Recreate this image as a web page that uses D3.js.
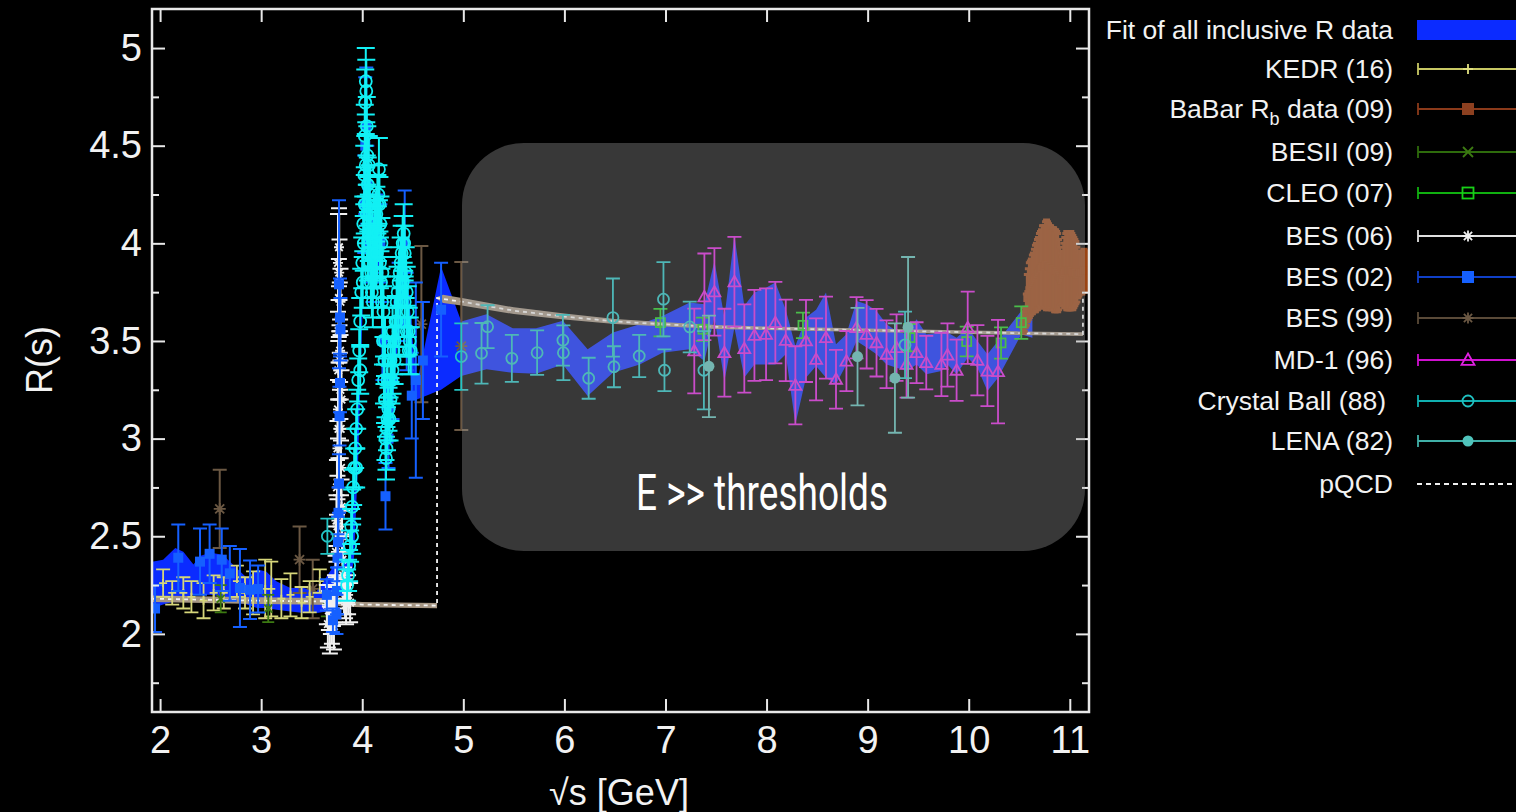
<!DOCTYPE html>
<html><head><meta charset="utf-8">
<script src="https://cdn.jsdelivr.net/npm/d3@7"></script>
<style>body{margin:0;background:#000;}svg{display:block;}</style>
</head><body><svg id="c" width="1516" height="812"></svg>
<script>
// ---------------- DATA ----------------
const xTicks = [2,3,4,5,6,7,8,9,10,11];
const yTicks = [2,2.5,3,3.5,4,4.5,5];
const yMinorTicks = [1.75,2.25,2.75,3.25,3.75,4.25,4.75];

const legendLabels = ["Fit of all inclusive R data","KEDR (16)","BaBar R_b data (09)","BESII (09)","CLEO (07)","BES (06)","BES (02)","BES (99)","MD-1 (96)","Crystal Ball (88)","LENA (82)","pQCD"];

// Fit band
const fitX  = [1.92,2.03,2.15,2.23,2.33,2.40,2.50,2.62,2.72,2.86,2.96,3.05,3.15,3.29,3.42,3.55,3.65,3.72,3.75,3.77,3.79,3.82,3.87,3.92,3.96,4.00,4.03,4.06,4.09,4.13,4.17,4.20,4.23,4.27,4.32,4.37,4.41,4.45,4.50,4.54,4.78,4.98,5.23,5.49,5.72,5.985,6.23,6.48,6.745,6.97,7.24,7.385,7.484,7.583,7.682,7.78,7.88,7.995,8.087,8.19,8.285,8.39,8.49,8.588,8.687,8.79,8.89,8.99,9.088,9.187,9.286,9.385,9.484,9.58,9.73,9.79,9.88,9.99,10.086,10.185,10.29,10.52,10.63];
const fitLo = [2.13,2.15,2.167,2.184,2.20,2.20,2.20,2.19,2.167,2.15,2.132,2.132,2.124,2.115,2.107,2.107,2.115,2.15,2.30,3.0,2.6,2.2,2.2,2.4,2.9,3.6,4.3,4.1,3.8,3.8,3.9,3.6,2.9,3.0,3.3,3.6,3.8,3.5,3.2,3.2,3.25,3.32,3.355,3.337,3.332,3.38,3.218,3.337,3.38,3.44,3.457,3.397,3.62,3.295,3.568,3.313,3.38,3.38,3.38,3.432,3.073,3.312,3.372,3.312,3.278,3.38,3.50,3.466,3.432,3.38,3.363,3.346,3.38,3.329,3.346,3.38,3.329,3.414,3.363,3.244,3.312,3.534,3.517];
const fitHi = [2.37,2.38,2.44,2.42,2.355,2.40,2.415,2.405,2.355,2.286,2.33,2.32,2.27,2.235,2.235,2.218,2.295,2.35,2.60,3.5,2.9,2.4,2.35,2.7,3.3,4.0,4.75,4.5,4.2,4.1,4.25,3.95,3.3,3.3,3.6,3.9,4.1,3.8,3.5,3.28,3.88,3.60,3.637,3.565,3.565,3.603,3.457,3.543,3.586,3.628,3.697,3.688,3.91,3.62,4.04,3.68,3.748,3.773,3.80,3.66,3.474,3.62,3.66,3.748,3.483,3.534,3.705,3.688,3.654,3.586,3.551,3.534,3.611,3.534,3.543,3.543,3.517,3.568,3.50,3.432,3.50,3.654,3.628];

// pQCD
const pqcdX   = [1.92,3.0,3.73,3.80,4.0,4.74,4.74,4.8,5.0,5.5,6.0,6.5,7.0,7.5,8.0,8.5,9.0,9.5,10.0,10.5,11.13,11.13];
const pqcdR   = [2.18,2.17,2.165,2.155,2.15,2.145,3.72,3.715,3.70,3.655,3.625,3.60,3.585,3.572,3.565,3.56,3.555,3.55,3.545,3.54,3.535,3.84];
const pqcdErr = [0.012,0.012,0.012,0.01,0.008,0.008,0.0,0.016,0.014,0.012,0.01,0.008,0.006,0.005,0.004,0.004,0.004,0.004,0.004,0.004,0.004,0.0];

// KEDR (16)
const kedrX = [2.03,2.12,2.23,2.31,2.43,2.53,2.63,2.76,2.84,2.92,3.04,3.10,3.20,3.29,3.40,3.48,3.58];
const kedrR = [2.26,2.21,2.21,2.19,2.17,2.21,2.21,2.27,2.21,2.21,2.23,2.23,2.18,2.20,2.16,2.19,2.27];
const kedrE = [0.07,0.06,0.08,0.08,0.09,0.09,0.08,0.08,0.08,0.11,0.15,0.14,0.10,0.11,0.08,0.08,0.06];

// BaBar Rb (09)
const babarX = [10.54,10.55,10.56,10.57,10.58,10.59,10.60,10.61,10.62,10.63,10.64,10.65,10.66,10.67,10.68,10.69,10.70,10.71,10.72,10.73,10.74,10.75,10.76,10.77,10.78,10.79,10.80,10.81,10.82,10.83,10.84,10.85,10.86,10.87,10.88,10.89,10.90,10.91,10.92,10.93,10.94,10.95,10.96,10.97,10.98,10.99,11.00,11.01,11.02,11.03,11.04,11.05,11.06,11.07,11.08,11.09,11.10,11.12,11.14,11.16,11.18,11.20];
const babarR = [3.58,3.60,3.62,3.66,3.72,3.74,3.76,3.77,3.78,3.79,3.80,3.81,3.82,3.83,3.84,3.85,3.86,3.87,3.87,3.88,3.88,3.88,3.89,3.89,3.89,3.88,3.88,3.88,3.87,3.87,3.87,3.86,3.86,3.86,3.85,3.84,3.83,3.82,3.81,3.82,3.84,3.85,3.86,3.86,3.86,3.86,3.86,3.86,3.86,3.85,3.85,3.85,3.85,3.84,3.84,3.84,3.85,3.85,3.86,3.86,3.86,3.86];
const babarE = [0.04,0.05,0.05,0.08,0.12,0.13,0.14,0.14,0.14,0.15,0.15,0.16,0.17,0.17,0.18,0.18,0.19,0.19,0.20,0.21,0.21,0.21,0.22,0.23,0.22,0.22,0.21,0.21,0.21,0.21,0.21,0.21,0.21,0.20,0.20,0.18,0.15,0.13,0.12,0.14,0.16,0.18,0.19,0.20,0.20,0.20,0.20,0.20,0.19,0.19,0.18,0.17,0.16,0.14,0.12,0.11,0.11,0.11,0.11,0.10,0.10,0.10];

// BESII (09)
const besiiX = [2.60,3.07,3.65];
const besiiR = [2.18,2.13,2.17];
const besiiE = [0.07,0.07,0.08];

// CLEO (07)
const cleoX = [6.95,7.37,8.36,9.42,9.98,10.32,10.52];
const cleoR = [3.594,3.56,3.58,3.517,3.497,3.49,3.594];
const cleoE = [0.07,0.06,0.065,0.07,0.076,0.08,0.083];

// BES (06)
const bes06X = [3.65,3.66,3.67,3.68,3.69,3.70,3.71,3.72,3.73,3.735,3.74,3.745,3.75,3.755,3.76,3.763,3.766,3.769,3.772,3.775,3.778,3.781,3.784,3.787,3.79,3.795,3.80,3.805,3.81,3.82,3.83,3.84,3.86,3.88,3.745,3.755,3.765,3.775,3.785,3.795,3.76,3.77,3.78];
const bes06R = [2.15,2.05,2.12,2.02,2.10,2.06,2.14,2.04,2.18,2.28,2.42,2.58,2.75,2.95,3.15,3.35,3.55,3.72,3.85,3.80,3.62,3.45,3.25,3.05,2.85,2.65,2.50,2.38,2.30,2.22,2.18,2.15,2.20,2.16,2.25,2.55,3.05,3.55,3.70,3.20,3.90,3.98,3.40];
const bes06E = [0.10,0.12,0.10,0.12,0.10,0.11,0.10,0.12,0.12,0.12,0.13,0.13,0.14,0.14,0.15,0.15,0.16,0.20,0.30,0.22,0.18,0.16,0.15,0.15,0.14,0.14,0.13,0.12,0.12,0.12,0.10,0.10,0.10,0.10,0.12,0.14,0.15,0.16,0.17,0.15,0.25,0.20,0.15];

// BES (02)
const bes02X = [1.95,2.18,2.395,2.49,2.61,2.69,2.79,2.89,2.97,3.65,3.71,3.745,3.75,3.755,3.76,3.765,3.77,3.775,3.78,3.785,3.77,3.78,4.02,4.03,4.04,4.05,4.07,4.10,4.14,4.18,4.20,4.23,4.26,4.30,4.36,4.42,4.44,4.49,4.53,4.60,4.78];
const bes02R = [2.13,2.39,2.37,2.41,2.38,2.31,2.235,2.226,2.23,2.20,2.07,2.10,2.22,2.39,2.47,2.62,2.77,3.115,3.285,3.56,3.79,3.62,4.20,4.50,4.60,4.30,4.00,3.90,4.05,4.00,3.50,2.705,3.00,3.30,3.70,4.00,3.60,3.22,3.30,3.40,3.66];
const bes02E = [0.12,0.17,0.17,0.15,0.16,0.14,0.20,0.15,0.12,0.08,0.06,0.10,0.12,0.12,0.13,0.13,0.15,0.15,0.15,0.16,0.43,0.20,0.25,0.35,0.30,0.20,0.20,0.20,0.20,0.20,0.20,0.17,0.15,0.20,0.20,0.27,0.25,0.22,0.50,0.30,0.24];

// BES (99)
const bes99X = [2.59,3.38,3.51,4.585,4.98];
const bes99R = [2.64,2.38,2.23,3.586,3.474];
const bes99E = [0.20,0.17,0.15,0.40,0.43];

// MD-1 (96)
const md1X = [7.285,7.385,7.484,7.583,7.682,7.78,7.88,7.995,8.087,8.19,8.285,8.39,8.49,8.588,8.687,8.79,8.89,8.99,9.088,9.187,9.286,9.385,9.484,9.58,9.73,9.79,9.88,9.99,10.086,10.185,10.29];
const md1R = [3.449,3.726,3.751,3.44,3.803,3.461,3.529,3.534,3.594,3.503,3.273,3.50,3.406,3.517,3.304,3.397,3.568,3.534,3.491,3.432,3.466,3.38,3.44,3.389,3.38,3.428,3.35,3.568,3.401,3.346,3.343];
const md1E = [0.217,0.222,0.224,0.225,0.23,0.226,0.233,0.235,0.209,0.209,0.20,0.21,0.21,0.21,0.15,0.154,0.157,0.175,0.173,0.173,0.17,0.17,0.156,0.137,0.162,0.162,0.157,0.185,0.18,0.18,0.265];

// Crystal Ball (88)
const cbX = [3.655,4.98,5.18,5.24,5.48,5.73,5.985,5.99,6.24,6.48,6.49,6.74,6.98,6.99,7.24,7.38,9.37];
const cbR = [2.50,3.42,3.437,3.573,3.411,3.44,3.504,3.44,3.309,3.62,3.368,3.423,3.714,3.35,3.572,3.35,3.48];
const cbE = [0.09,0.17,0.155,0.11,0.12,0.114,0.13,0.14,0.105,0.20,0.105,0.108,0.19,0.107,0.13,0.20,0.17];

// LENA (82)
const lenaX = [7.43,8.90,9.27,9.40];
const lenaR = [3.37,3.42,3.31,3.57];
const lenaE = [0.26,0.25,0.28,0.36];

// charm-region scan (bright cyan, not in visible legend)
const charmX = [3.85,3.87,3.88,3.89,3.90,3.91,3.92,3.93,3.94,3.95,3.96,3.97,3.98,3.99,4.00,4.01,4.02,4.025,4.03,4.035,4.04,4.045,4.05,4.055,4.06,4.065,4.07,4.075,4.08,4.085,4.09,4.10,4.11,4.12,4.13,4.14,4.15,4.16,4.165,4.17,4.18,4.19,4.20,4.21,4.22,4.225,4.23,4.235,4.24,4.245,4.25,4.26,4.27,4.28,4.29,4.30,4.31,4.32,4.33,4.34,4.35,4.36,4.37,4.38,4.39,4.40,4.41,4.415,4.42,4.43,4.44,4.45,4.46,4.47,4.48,
  4.005,4.015,4.025,4.035,4.045,4.055,4.065,4.075,4.085,4.095,4.105,4.115,4.125,4.135,4.145,4.155,4.175,4.185,4.195,4.205,4.215,4.30,4.32,4.34,4.36,4.38,4.40,4.42,4.44,4.46,3.86,3.90,3.94,3.98,4.225,4.25,4.28];
const charmR = [2.25,2.35,2.45,2.55,2.65,2.75,2.85,2.95,3.05,3.15,3.30,3.45,3.60,3.75,3.90,4.10,4.35,4.55,4.72,4.83,4.78,4.60,4.45,4.30,4.20,4.40,4.10,4.00,3.90,3.80,3.85,3.95,4.00,4.05,4.10,4.15,4.20,4.25,4.38,4.20,4.10,4.00,3.85,3.65,3.40,3.20,3.00,2.90,2.95,3.05,3.10,3.15,3.10,3.20,3.30,3.35,3.45,3.50,3.60,3.70,3.75,3.80,3.85,3.90,3.95,4.00,4.05,4.00,3.95,3.85,3.75,3.65,3.55,3.50,3.45,
  3.80,4.00,4.20,4.40,4.15,3.95,4.05,4.25,4.05,3.75,3.70,3.85,3.90,3.95,3.95,4.05,3.90,3.80,3.70,3.50,3.30,3.55,3.40,3.60,3.55,3.70,3.80,3.70,3.55,3.45,2.30,2.50,2.85,3.35,3.50,3.30,3.40];
const charmE = [0.08,0.08,0.08,0.09,0.09,0.09,0.10,0.10,0.10,0.10,0.11,0.11,0.12,0.12,0.13,0.14,0.15,0.16,0.17,0.17,0.16,0.15,0.15,0.14,0.14,0.15,0.14,0.13,0.13,0.13,0.13,0.13,0.13,0.14,0.14,0.14,0.15,0.15,0.16,0.14,0.14,0.13,0.13,0.13,0.12,0.12,0.11,0.11,0.11,0.11,0.11,0.11,0.11,0.11,0.12,0.12,0.12,0.12,0.13,0.13,0.13,0.13,0.13,0.13,0.14,0.14,0.15,0.14,0.14,0.13,0.13,0.13,0.12,0.12,0.12,
  0.13,0.14,0.15,0.16,0.15,0.14,0.14,0.15,0.14,0.13,0.13,0.13,0.13,0.14,0.14,0.14,0.13,0.13,0.13,0.12,0.12,0.12,0.12,0.13,0.13,0.13,0.13,0.13,0.13,0.12,0.08,0.09,0.10,0.12,0.12,0.11,0.11];

// ---------------- CHART ----------------
const svg = d3.select('#c');
svg.append('rect').attr('width',1516).attr('height',812).attr('fill','#000');
const xs = d3.scaleLinear().domain([1.92, 11.19]).range([152, 1089]);
const ys = d3.scaleLinear().domain([1.6, 5.2]).range([712, 9]);

svg.append('clipPath').attr('id','plotclip').append('rect')
  .attr('x',152).attr('y',9).attr('width',937).attr('height',703);
const plot = svg.append('g').attr('clip-path','url(#plotclip)');

// fit band
const fitData = fitX.map((x,i)=>({x, lo:fitLo[i], hi:fitHi[i]}));
plot.append('path').datum(fitData)
  .attr('d', d3.area().x(d=>xs(d.x)).y0(d=>ys(d.lo)).y1(d=>ys(d.hi)))
  .attr('fill','#0b2bff');

// pQCD band + line
const pq = pqcdX.map((x,i)=>({x, r:pqcdR[i], e:pqcdErr[i]}));
plot.append('path').datum(pq)
  .attr('d', d3.area().x(d=>xs(d.x)).y0(d=>ys(d.r-d.e)+1).y1(d=>ys(d.r+d.e)-1))
  .attr('fill','#a59684');
plot.append('path').datum(pq)
  .attr('d', d3.line().x(d=>xs(d.x)).y(d=>ys(d.r)))
  .attr('fill','none').attr('stroke','#f4f4f4').attr('stroke-width',1.8).attr('stroke-dasharray','4,4');

// marker painter
function marker(g, type, color, size){
  const s = size;
  switch(type){
    case 'plus': g.append('path').attr('d',`M${-s},0H${s}M0,${-s}V${s}`).attr('stroke',color).attr('stroke-width',1.8).attr('fill','none'); break;
    case 'cross': g.append('path').attr('d',`M${-s},${-s}L${s},${s}M${-s},${s}L${s},${-s}`).attr('stroke',color).attr('stroke-width',1.8).attr('fill','none'); break;
    case 'star': g.append('path').attr('d',`M${-s},0H${s}M0,${-s}V${s}M${-s*0.75},${-s*0.75}L${s*0.75},${s*0.75}M${-s*0.75},${s*0.75}L${s*0.75},${-s*0.75}`).attr('stroke',color).attr('stroke-width',1.8).attr('fill','none'); break;
    case 'sqFill': g.append('rect').attr('x',-s).attr('y',-s).attr('width',2*s).attr('height',2*s).attr('fill',color); break;
    case 'sqOpen': g.append('rect').attr('x',-s).attr('y',-s).attr('width',2*s).attr('height',2*s).attr('fill','none').attr('stroke',color).attr('stroke-width',1.8); break;
    case 'triOpen': g.append('path').attr('d',`M0,${-s}L${s},${s*0.75}L${-s},${s*0.75}Z`).attr('fill','none').attr('stroke',color).attr('stroke-width',1.8); break;
    case 'circOpen': g.append('circle').attr('r',s).attr('fill','none').attr('stroke',color).attr('stroke-width',1.8); break;
    case 'circFill': g.append('circle').attr('r',s).attr('fill',color); break;
  }
}

function series(X, R, E, color, type, size, capW, lw){
  const data = X.map((x,i)=>({x, r:R[i], e:E[i]}));
  const g = plot.append('g');
  const pts = g.selectAll('g').data(data).join('g')
    .attr('transform', d=>`translate(${xs(d.x)},0)`);
  pts.append('path')
    .attr('d', d=>`M0,${ys(d.r-d.e)}V${ys(d.r+d.e)}M${-capW/2},${ys(d.r-d.e)}H${capW/2}M${-capW/2},${ys(d.r+d.e)}H${capW/2}`)
    .attr('stroke', color).attr('stroke-width', lw).attr('fill','none');
  pts.each(function(d){
    const m = d3.select(this).append('g').attr('transform',`translate(0,${ys(d.r)})`);
    marker(m, type, color, size);
  });
}

series(babarX, babarR, babarE, '#9a4414', 'sqFill', 4, 7, 3);
series(bes99X, bes99R, bes99E, '#6b5843', 'star', 6, 14, 2);
series(kedrX, kedrR, kedrE, '#d6d67a', 'plus', 4, 14, 1.8);
series(besiiX, besiiR, besiiE, '#3c7a12', 'cross', 4, 12, 1.8);
series(bes06X, bes06R, bes06E, '#f0f0f0', 'star', 5, 16, 2);
series(bes02X, bes02R, bes02E, '#1560ff', 'sqFill', 5, 14, 2);
series(charmX, charmR, charmE, '#12f0f4', 'circOpen', 6, 18, 2);
series(cleoX, cleoR, cleoE, '#1ccc1c', 'sqOpen', 4.5, 14, 1.8);
series(md1X, md1R, md1E, '#e020e0', 'triOpen', 6, 14, 1.8);
series(cbX, cbR, cbE, '#22c4c4', 'circOpen', 5.5, 14, 1.8);
series(lenaX, lenaR, lenaE, '#5cc0b8', 'circFill', 5.5, 14, 1.8);

// axes
const axCol = '#e8e8e8';
function styleAxis(g){
  g.select('.domain').remove();
  g.selectAll('line').attr('stroke',axCol).attr('stroke-width',2);
  g.selectAll('text').attr('fill','#f2f2f2').attr('font-family','Liberation Sans, Arial, sans-serif').attr('font-size',38);
}
svg.append('g').attr('transform','translate(0,712)')
  .call(d3.axisBottom(xs).tickValues(xTicks).tickSize(-13).tickPadding(14).tickFormat(d3.format('d'))).call(styleAxis);
svg.append('g').attr('transform','translate(0,9)')
  .call(d3.axisTop(xs).tickValues(xTicks).tickSize(-13).tickFormat('')).call(styleAxis);
svg.append('g').attr('transform','translate(152,0)')
  .call(d3.axisLeft(ys).tickValues(yTicks).tickSize(-13).tickPadding(10).tickFormat(d=>d)).call(styleAxis);
svg.append('g').attr('transform','translate(152,0)')
  .call(d3.axisLeft(ys).tickValues(yMinorTicks).tickSize(-7).tickFormat('')).call(styleAxis);
svg.append('g').attr('transform','translate(1089,0)')
  .call(d3.axisRight(ys).tickValues(yTicks).tickSize(-13).tickFormat('')).call(styleAxis);
svg.append('g').attr('transform','translate(1089,0)')
  .call(d3.axisRight(ys).tickValues(yMinorTicks).tickSize(-7).tickFormat('')).call(styleAxis);
svg.append('rect').attr('x',152).attr('y',9).attr('width',937).attr('height',703)
  .attr('fill','none').attr('stroke',axCol).attr('stroke-width',2.5);

svg.append('text').attr('x',619).attr('y',805).attr('text-anchor','middle')
  .attr('fill','#f2f2f2').attr('font-family','Liberation Sans, Arial, sans-serif').attr('font-size',36)
  .text('√s [GeV]');
svg.append('text').attr('transform','translate(52,360) rotate(-90)').attr('text-anchor','middle')
  .attr('fill','#f2f2f2').attr('font-family','Liberation Sans, Arial, sans-serif').attr('font-size',36)
  .text('R(s)');

// overlay box
svg.append('rect').attr('x',462).attr('y',143).attr('width',623).attr('height',408).attr('rx',62).attr('ry',62)
  .attr('fill','rgb(160,160,160)').attr('fill-opacity',0.35);
svg.append('text').attr('x',762).attr('y',510).attr('text-anchor','middle')
  .attr('fill','#ffffff').attr('font-family','Roboto, sans-serif').attr('font-weight',400).attr('font-size',50)
  .attr('textLength',252).attr('lengthAdjust','spacingAndGlyphs')
  .text('E >> thresholds');

// legend
const legStyles = [
  {type:'band', color:'#0b2bff'},
  {type:'plus', color:'#e0e080', line:'#c8c864', size:5},
  {type:'sqFill', color:'#8c4020', line:'#8b3a1a', size:6},
  {type:'cross', color:'#3c7a12', line:'#2e6b0c', size:5},
  {type:'sqOpen', color:'#18d018', line:'#10b010', size:5.5},
  {type:'star', color:'#f0f0f0', line:'#e0e0e0', size:5.5},
  {type:'sqFill', color:'#1560ff', line:'#1040c8', size:6},
  {type:'star', color:'#6b5843', line:'#5a4a38', size:5.5},
  {type:'triOpen', color:'#e020e0', line:'#d010d0', size:6.5},
  {type:'circOpen', color:'#20c0c0', line:'#10b0b0', size:5.5},
  {type:'circFill', color:'#50c4bc', line:'#40b0a8', size:5.5},
  {type:'dash', color:'#f0f0f0'}
];
const legRowY = [30,69,109,152,193,236,277,318,360,401,441,484];
const leg = svg.append('g');
legendLabels.forEach((lab,i)=>{
  const yy = legRowY[i];
  const st = legStyles[i];
  const t = leg.append('text').attr('x', i===9 ? 1386 : 1393).attr('y', yy+9).attr('text-anchor','end')
    .attr('fill','#f2f2f2').attr('font-family','Liberation Sans, Arial, sans-serif').attr('font-size',26.5);
  if(lab.indexOf('R_b')>=0){
    t.append('tspan').text('BaBar R');
    t.append('tspan').attr('font-size',18).attr('dy',7).text('b');
    t.append('tspan').attr('dy',-7).text(' data (09)');
  } else t.text(lab);
  if(st.type==='band'){
    leg.append('rect').attr('x',1417).attr('y',yy-10).attr('width',99).attr('height',20).attr('fill',st.color);
  } else if(st.type==='dash'){
    leg.append('path').attr('d',`M1417,${yy}H1516`).attr('stroke',st.color).attr('stroke-width',1.8).attr('stroke-dasharray','5,4');
  } else {
    leg.append('path').attr('d',`M1418,${yy}H1516M1418,${yy-6}V${yy+6}`).attr('stroke',st.line).attr('stroke-width',1.8).attr('fill','none');
    const m = leg.append('g').attr('transform',`translate(1468,${yy})`);
    marker(m, st.type, st.color, st.size);
  }
});
</script></body></html>
